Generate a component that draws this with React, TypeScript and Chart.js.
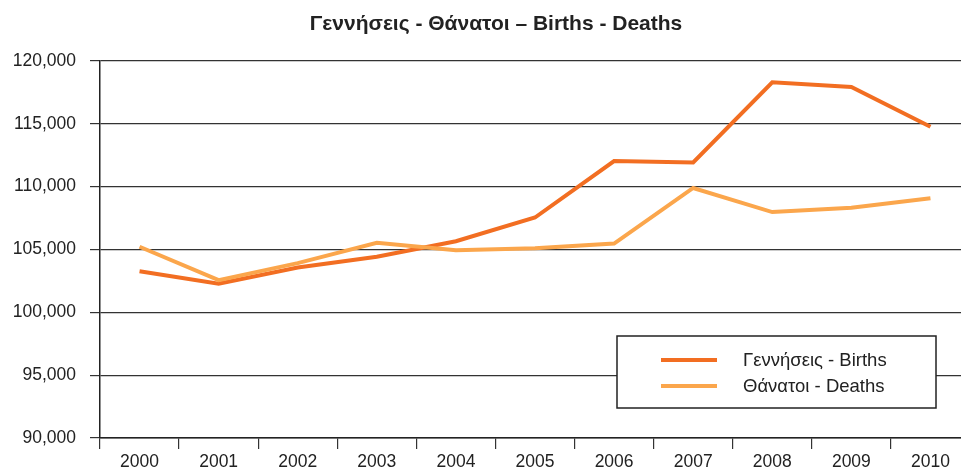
import React, { useEffect, useRef } from "react";
import { Chart, registerables } from "chart.js";

Chart.register(...registerables);

const years = ["2000", "2001", "2002", "2003", "2004", "2005", "2006", "2007", "2008", "2009", "2010"];
const births = [103274, 102282, 103569, 104420, 105655, 107545, 112042, 111926, 118302, 117933, 114766];
const deaths = [105219, 102559, 103915, 105529, 104942, 105091, 105476, 109895, 107979, 108316, 109084];
const seriesLabels = ["Γεννήσεις - Births", "Θάνατοι - Deaths"];
const titleText = "Γεννήσεις - Θάνατοι – Births - Deaths";
const yMin = 90000;
const yMax = 120000;
const yStep = 5000;

const FONT = '"Liberation Sans", Arial, Helvetica, sans-serif';

const titleShift = {
  id: "titleShift",
  afterLayout(chart: any) {
    if (chart.titleBlock) {
      chart.titleBlock.left += 22;
    }
  },
};

const boxLegend = {
  id: "boxLegend",
  afterDraw(chart: any) {
    const { ctx, chartArea } = chart;
    const x = chartArea.right - 353;
    const y = chartArea.top + 275;
    const w = 319;
    const h = 72;
    ctx.save();
    ctx.fillStyle = "#ffffff";
    ctx.fillRect(x, y, w, h);
    ctx.strokeStyle = "#222222";
    ctx.lineWidth = 1.5;
    ctx.strokeRect(x, y, w, h);
    chart.data.datasets.forEach((ds: any, i: number) => {
      const ly = y + 24 + i * 26;
      ctx.strokeStyle = ds.borderColor;
      ctx.lineWidth = 4;
      ctx.beginPath();
      ctx.moveTo(x + 44, ly);
      ctx.lineTo(x + 100, ly);
      ctx.stroke();
      ctx.fillStyle = "#222222";
      ctx.font = `18.5px ${FONT}`;
      ctx.textBaseline = "middle";
      ctx.textAlign = "left";
      ctx.fillText(ds.label, x + 126, ly + 1);
    });
    ctx.restore();
  },
};

export default function App() {
  const ref = useRef<HTMLCanvasElement>(null);

  useEffect(() => {
    const canvas = ref.current;
    if (!canvas) return;
    const chart = new Chart(canvas, {
      type: "line",
      data: {
        labels: years,
        datasets: [
          {
            label: seriesLabels[0],
            data: births,
            borderColor: "#F26E22",
            backgroundColor: "#F26E22",
            borderWidth: 4,
            pointRadius: 0,
            tension: 0,
            fill: false,
            order: 1,
          },
          {
            label: seriesLabels[1],
            data: deaths,
            borderColor: "#FBA64C",
            backgroundColor: "#FBA64C",
            borderWidth: 4,
            pointRadius: 0,
            tension: 0,
            fill: false,
            order: 0,
          },
        ],
      },
      options: {
        responsive: false,
        animation: false,
        devicePixelRatio: 1,
        layout: { padding: { left: 0, right: 0, top: 0, bottom: 0 } },
        plugins: {
          legend: { display: false },
          tooltip: { enabled: false },
          title: {
            display: true,
            text: titleText,
            color: "#222222",
            font: { family: FONT, size: 21, weight: "bold", lineHeight: 1.2 },
            padding: { top: 12, bottom: 23.8 },
          },
        },
        scales: {
          x: {
            type: "category",
            offset: true,
            grid: {
              offset: true,
              drawOnChartArea: false,
              drawTicks: true,
              tickLength: 11,
              color: "#333333",
              lineWidth: 1.2,
            },
            border: { display: true, color: "#222222", width: 1.5 },
            ticks: {
              color: "#222222",
              font: { family: FONT, size: 17.5 },
              padding: 3,
              maxRotation: 0,
              autoSkip: false,
            },
            afterFit(scale: any) {
              scale.height = 33;
            },
          },
          y: {
            min: yMin,
            max: yMax,
            grid: {
              drawOnChartArea: true,
              drawTicks: true,
              tickLength: 10,
              color: "#333333",
              lineWidth: 1.2,
            },
            border: { display: true, color: "#222222", width: 1.5 },
            ticks: {
              stepSize: yStep,
              color: "#222222",
              font: { family: FONT, size: 17.5 },
              padding: 14,
              callback: (v: any) => Number(v).toLocaleString("en-US"),
            },
            afterFit(scale: any) {
              scale.width = 100;
            },
          },
        },
      },
      plugins: [titleShift, boxLegend],
    });
    return () => chart.destroy();
  }, []);

  return (
    <div
      style={{
        position: "fixed",
        left: 0,
        top: 0,
        width: 961,
        height: 471,
        overflow: "hidden",
        background: "#ffffff",
      }}
    >
      <canvas ref={ref} width={970} height={471} style={{ display: "block" }} />
    </div>
  );
}
